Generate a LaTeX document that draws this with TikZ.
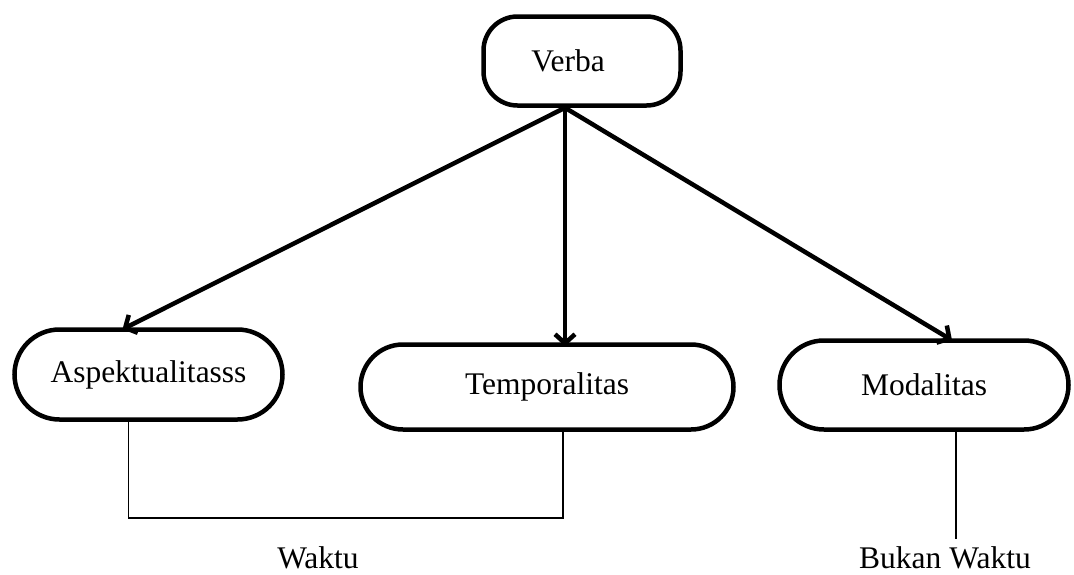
\documentclass[tikz,border=0pt]{standalone}
\usepackage{fontspec}
\setmainfont{Liberation Serif}
\usetikzlibrary{arrows.meta,shapes.misc}
\begin{document}
\begin{tikzpicture}[x=1pt,y=-1pt,
  box/.style={draw=black,line width=4.5pt,inner sep=0pt,fill=white},
  stadium/.style={box,rounded rectangle,rounded rectangle arc length=180},
  arr/.style={line width=4.5pt,-{Straight Barb[length=9pt,width=20pt]}},
  conn/.style={line width=1.4pt,line join=miter},
  lbl/.style={inner sep=0pt,anchor=base},
  every node/.style={font=\fontsize{31.5}{36}\selectfont}]
\useasboundingbox (0,0) rectangle (1074,574);
\node[box,rounded corners=34pt,minimum width=197pt,minimum height=89pt,label={[xshift=-14pt]center:Verba}] (verba) at (582,61) {};
\node[stadium,minimum width=268pt,minimum height=90pt] (asp) at (148.5,374.5) {Aspektualitasss};
\node[stadium,minimum width=373pt,minimum height=85pt] (temp) at (547,387) {Temporalitas};
\node[stadium,minimum width=289pt,minimum height=89pt] (mod) at (924,385) {Modalitas};
\node[lbl] (waktu) at (318,568) {Waktu};
\node[lbl] (bw) at (945,568) {Bukan Waktu};
\coordinate (waktubar) at (345,518);
\draw[arr] ([xshift=-17pt]verba.south) -- ([xshift=-26pt,yshift=-2pt]asp.north);
\draw[arr] ([xshift=-17pt]verba.south) -- ([xshift=18pt,yshift=-4pt]temp.north);
\draw[arr] ([xshift=-17pt]verba.south) -- ([xshift=28pt,yshift=-2pt]mod.north);
\draw[conn] ([xshift=-20pt]asp.south) |- (waktubar) -| ([xshift=16pt]temp.south);
\draw[conn] ([xshift=32pt]mod.south) -- ([xshift=11pt,yshift=7pt]bw.north);
\end{tikzpicture}
\end{document}
